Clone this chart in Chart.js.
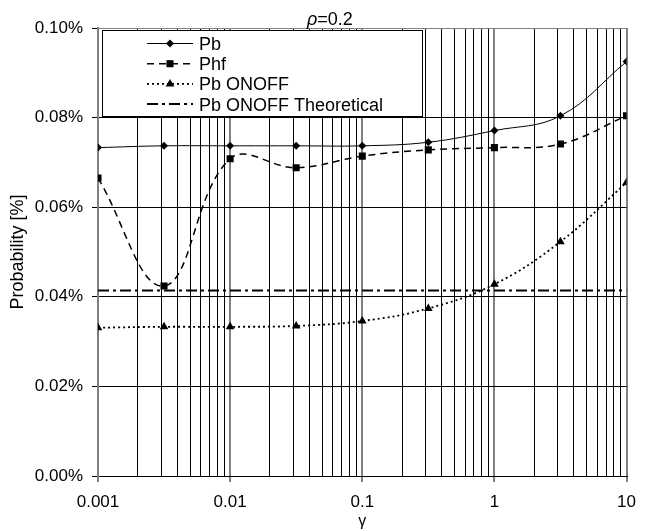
<!DOCTYPE html>
<html>
<head>
<meta charset="utf-8">
<script src="https://cdn.jsdelivr.net/npm/chart.js@4.4.1/dist/chart.umd.min.js"></script>
<style>
  body { margin: 0; background: #fff; }
  canvas { display: block; }
</style>
</head>
<body>
<canvas id="chart" width="646" height="531"></canvas>
<script>
// values (probability in %)
const gammaValues = [0.001, 0.00316, 0.01, 0.0316, 0.1, 0.316, 1, 3.16, 10];
const pbValues = [0.0733, 0.0737, 0.0737, 0.0737, 0.0737, 0.0745, 0.0771, 0.0804, 0.0925];
const phfValues = [0.0665, 0.0424, 0.0708, 0.0688, 0.0714, 0.0728, 0.0733, 0.0741, 0.0804];
const onoffValues = [0.0331, 0.0333, 0.0333, 0.0335, 0.0346, 0.0374, 0.0428, 0.0523, 0.0655];
const theoreticalGamma = [0.001, 10];
const theoreticalValues = [0.0414, 0.0414];

const seriesNames = ["Pb", "Phf", "Pb ONOFF", "Pb ONOFF Theoretical"];

const xDecades = [0.001, 0.01, 0.1, 1, 10];
const xTickLabels = ["0.001", "0.01", "0.1", "1", "10"];
const yTicks = [0, 0.02, 0.04, 0.06, 0.08, 0.1];
const yTickLabels = ["0.00%", "0.02%", "0.04%", "0.06%", "0.08%", "0.10%"];

const FONT = "'Liberation Sans', Arial, sans-serif";

function toPoints(xs, ys) {
  return xs.map((x, i) => ({ x: x, y: ys[i] }));
}

// grid lines at 1..9 of every decade
const xGridValues = [];
for (const d of xDecades.slice(0, -1)) {
  for (let k = 1; k <= 9; k++) {
    xGridValues.push(Number((k * d).toPrecision(3)));
  }
}
xGridValues.push(xDecades[xDecades.length - 1]);

function decadeIndex(v) {
  return xDecades.findIndex((d) => Math.abs(d - v) / d < 1e-6);
}

const legendAndTitle = {
  id: "legendAndTitle",
  afterDatasetsDraw(chart) {
    const { ctx, chartArea } = chart;
    const left = chartArea.left + 4;
    const top = chartArea.top + 2;

    ctx.save();
    ctx.fillStyle = "#fff";
    ctx.fillRect(left, top, 321, 87);
    ctx.strokeStyle = "#000";
    ctx.lineWidth = 1;
    ctx.strokeRect(left + 0.5, top + 0.5, 320, 86);

    chart.data.datasets.forEach((ds, i) => {
      const y = top + 13.5 + i * 20.2;
      ctx.strokeStyle = "#000";
      ctx.lineWidth = ds.borderWidth;
      ctx.setLineDash(ds.borderDash || []);
      ctx.beginPath();
      ctx.moveTo(left + 45, y);
      ctx.lineTo(left + 91, y);
      ctx.stroke();
      ctx.setLineDash([]);
      if (ds.pointRadius > 0) {
        ctx.fillStyle = "#000";
        Chart.helpers.drawPoint(ctx, {
          pointStyle: ds.pointStyle,
          radius: ds.pointRadius,
          rotation: 0,
          borderWidth: 0,
        }, left + 68, y);
      }
      ctx.fillStyle = "#000";
      ctx.font = "18px " + FONT;
      ctx.textBaseline = "alphabetic";
      ctx.textAlign = "left";
      ctx.fillText(ds.label, left + 97, y + 6.5);
    });

    // title rho=0.2
    ctx.fillStyle = "#000";
    ctx.textBaseline = "alphabetic";
    ctx.font = "italic 18px " + FONT;
    const rho = "\u03c1";
    const x0 = 307;
    ctx.fillText(rho, x0, 25);
    const w = ctx.measureText(rho).width;
    ctx.font = "18px " + FONT;
    ctx.fillText("=0.2", x0 + w, 25);
    ctx.restore();
  },
};

new Chart(document.getElementById("chart"), {
  type: "line",
  data: {
    datasets: [
      {
        label: seriesNames[0],
        data: toPoints(gammaValues, pbValues),
        borderColor: "#000",
        backgroundColor: "#000",
        borderWidth: 1,
        pointStyle: "rectRot",
        pointRadius: 4,
        pointBorderWidth: 0,
        tension: 0.4,
      },
      {
        label: seriesNames[1],
        data: toPoints(gammaValues, phfValues),
        borderColor: "#000",
        backgroundColor: "#000",
        borderWidth: 1.5,
        borderDash: [7, 5],
        pointStyle: "rect",
        pointRadius: 5,
        pointBorderWidth: 0,
        tension: 0.4,
      },
      {
        label: seriesNames[2],
        data: toPoints(gammaValues, onoffValues),
        borderColor: "#000",
        backgroundColor: "#000",
        borderWidth: 1.8,
        borderDash: [2, 3],
        pointStyle: "triangle",
        pointRadius: 5,
        pointBorderWidth: 0,
        tension: 0.4,
      },
      {
        label: seriesNames[3],
        data: toPoints(theoreticalGamma, theoreticalValues),
        borderColor: "#000",
        backgroundColor: "#000",
        borderWidth: 2,
        borderDash: [11, 4, 3, 4],
        pointRadius: 0,
        tension: 0,
      },
    ],
  },
  options: {
    responsive: false,
    animation: false,
    layout: { padding: { left: 0, right: 10, top: 28, bottom: 0 } },
    plugins: {
      legend: { display: false },
      tooltip: { enabled: false },
    },
    scales: {
      x: {
        type: "logarithmic",
        min: 0.001,
        max: 10,
        afterBuildTicks: (scale) => {
          scale.ticks = xGridValues.map((v) => ({ value: v }));
        },
        afterFit: (scale) => {
          scale.height = 55;
        },
        ticks: {
          autoSkip: false,
          maxRotation: 0,
          padding: 10,
          color: "#000",
          font: { family: FONT, size: 17 },
          callback: (value) => {
            const i = decadeIndex(value);
            return i >= 0 ? xTickLabels[i] : "";
          },
        },
        grid: {
          color: (c) => (c.tick && decadeIndex(c.tick.value) >= 0 ? "#808080" : "#000"),
          lineWidth: (c) => (c.tick && decadeIndex(c.tick.value) >= 0 ? 2 : 1),
          tickColor: (c) => (c.tick && decadeIndex(c.tick.value) >= 0 ? "#000" : "rgba(0,0,0,0)"),
          tickWidth: 1,
          tickLength: 6,
        },
        border: { display: true, color: "#000", width: 1 },
        title: {
          display: true,
          text: "\u03b3",
          color: "#000",
          font: { family: FONT, size: 16 },
          padding: { top: 0, bottom: 0 },
        },
      },
      y: {
        min: 0,
        max: 0.1,
        afterBuildTicks: (scale) => {
          scale.ticks = yTicks.map((v) => ({ value: v }));
        },
        afterFit: (scale) => {
          scale.width = 98;
        },
        ticks: {
          padding: 9,
          color: "#000",
          font: { family: FONT, size: 17 },
          callback: (value, index) => yTickLabels[index],
        },
        grid: {
          color: (c) => (c.tick && c.tick.value >= 0.1 ? "#808080" : "#000"),
          lineWidth: 1,
          tickColor: "#000",
          tickLength: 6,
        },
        border: { display: true, color: "#808080", width: 2 },
        title: {
          display: true,
          text: "Probability [%]",
          color: "#000",
          font: { family: FONT, size: 18 },
          padding: { top: 7, bottom: 0 },
        },
      },
    },
  },
  plugins: [legendAndTitle],
});
</script>
</body>
</html>
